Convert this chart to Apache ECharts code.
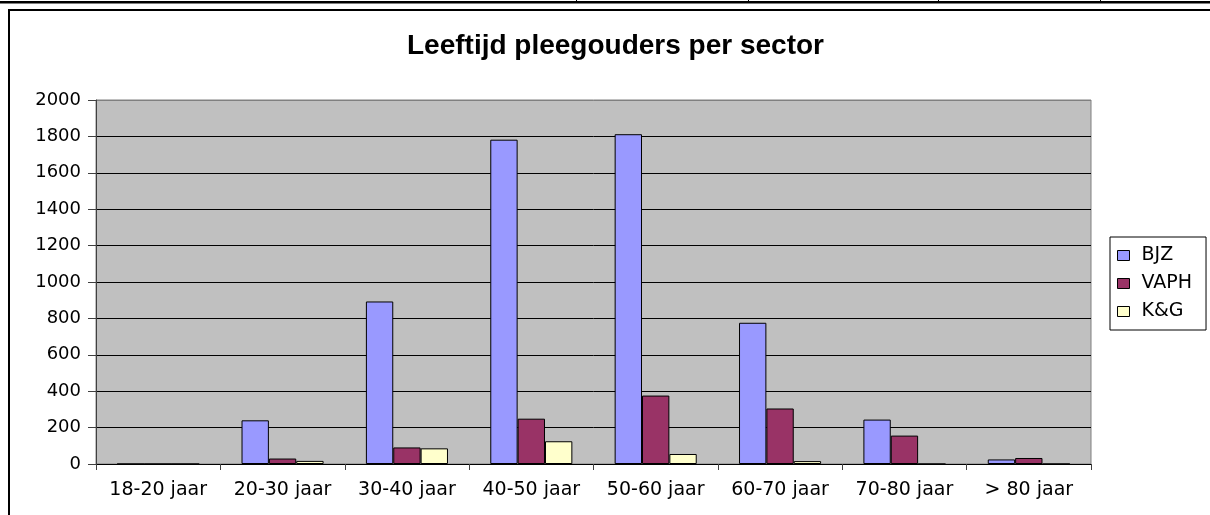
<!DOCTYPE html>
<html>
<head>
<meta charset="utf-8">
<script src="https://cdn.jsdelivr.net/npm/echarts@6/dist/echarts.min.js"></script>
<style>
html,body{margin:0;padding:0;background:#fff;}
#chart{width:1210px;height:515px;}
</style>
</head>
<body>
<div id="chart"></div>
<script>
const categories = ['18-20 jaar','20-30 jaar','30-40 jaar','40-50 jaar','50-60 jaar','60-70 jaar','70-80 jaar','> 80 jaar'];
const seriesNames = ['BJZ','VAPH','K&G'];
const bjz  = [0, 240, 893, 1782, 1812, 776, 244, 25];
const vaph = [0, 30, 91, 249, 376, 305, 156, 33];
const kg   = [0, 17, 86, 125, 55, 16, 0, 0];
const yTicks = [0, 200, 400, 600, 800, 1000, 1200, 1400, 1600, 1800, 2000];
const colors = ['#9999FF', '#993366', '#FFFFCC'];

const chart = echarts.init(document.getElementById('chart'), null, {renderer: 'canvas'});
const labelFont = 'DejaVu Sans';
const barStyle = c => ({color: c, borderColor: '#000', borderWidth: 1});
const splitColors = yTicks.map((t, i) => i === yTicks.length - 1 ? '#808080' : '#000');

chart.setOption({
  animation: false,
  backgroundColor: '#fff',
  title: {
    text: 'Leeftijd pleegouders per sector',
    left: 407, top: 32, padding: 0,
    textStyle: {fontFamily: 'Liberation Sans', fontWeight: 'bold', fontSize: 28, color: '#000'}
  },
  legend: {
    orient: 'vertical',
    left: 1110, top: 237,
    padding: [9, 14, 9, 7],
    backgroundColor: '#fff',
    borderColor: '#000', borderWidth: 1,
    itemWidth: 12, itemHeight: 10, itemGap: 9,
    icon: 'rect',
    itemStyle: {borderColor: '#000', borderWidth: 1},
    textStyle: {fontFamily: labelFont, fontSize: 19, color: '#000', padding: [0, 0, 0, 7]},
    data: seriesNames
  },
  grid: {
    left: 96, right: 119, top: 100, bottom: 51,
    show: true, backgroundColor: '#C0C0C0', borderColor: '#808080', borderWidth: 1,
    containLabel: false
  },
  xAxis: {
    type: 'category',
    data: categories,
    axisLine: {show: true, lineStyle: {color: '#000', width: 1}},
    axisTick: {show: true, length: 6, alignWithLabel: false, lineStyle: {color: '#404040'}},
    axisLabel: {fontFamily: labelFont, fontSize: 19, color: '#000', margin: 17, interval: 0},
    splitLine: {show: false}
  },
  yAxis: {
    type: 'value',
    min: yTicks[0], max: yTicks[yTicks.length - 1], interval: yTicks[1] - yTicks[0],
    axisLine: {show: true, lineStyle: {color: '#404040', width: 1}},
    axisTick: {show: true, length: 8, inside: false, lineStyle: {color: '#404040'}},
    axisLabel: {fontFamily: labelFont, fontSize: 18, color: '#000', margin: 15, formatter: v => String(v)},
    splitLine: {show: true, lineStyle: {color: splitColors, width: 1}}
  },
  series: [
    {name: seriesNames[0], type: 'bar', data: bjz, itemStyle: barStyle(colors[0]), barGap: '0%', barCategoryGap: '34%'},
    {name: seriesNames[1], type: 'bar', data: vaph, itemStyle: barStyle(colors[1]), barGap: '0%', barCategoryGap: '34%'},
    {name: seriesNames[2], type: 'bar', data: kg, itemStyle: barStyle(colors[2]), barGap: '0%', barCategoryGap: '34%'}
  ],
  graphic: [
    {type: 'rect', shape: {x: 0, y: 1, width: 1210, height: 2.5}, style: {fill: '#000'}, silent: true},
    {type: 'rect', shape: {x: 576, y: 0, width: 1, height: 2}, style: {fill: '#000'}, silent: true},
    {type: 'rect', shape: {x: 748, y: 0, width: 1, height: 2}, style: {fill: '#000'}, silent: true},
    {type: 'rect', shape: {x: 938, y: 0, width: 1, height: 2}, style: {fill: '#000'}, silent: true},
    {type: 'rect', shape: {x: 1100, y: 0, width: 1, height: 2}, style: {fill: '#000'}, silent: true},
    {type: 'rect', shape: {x: 8, y: 9, width: 1202, height: 2}, style: {fill: '#000'}, silent: true},
    {type: 'rect', shape: {x: 8, y: 9, width: 2, height: 506}, style: {fill: '#000'}, silent: true}
  ]
});
</script>
</body>
</html>
